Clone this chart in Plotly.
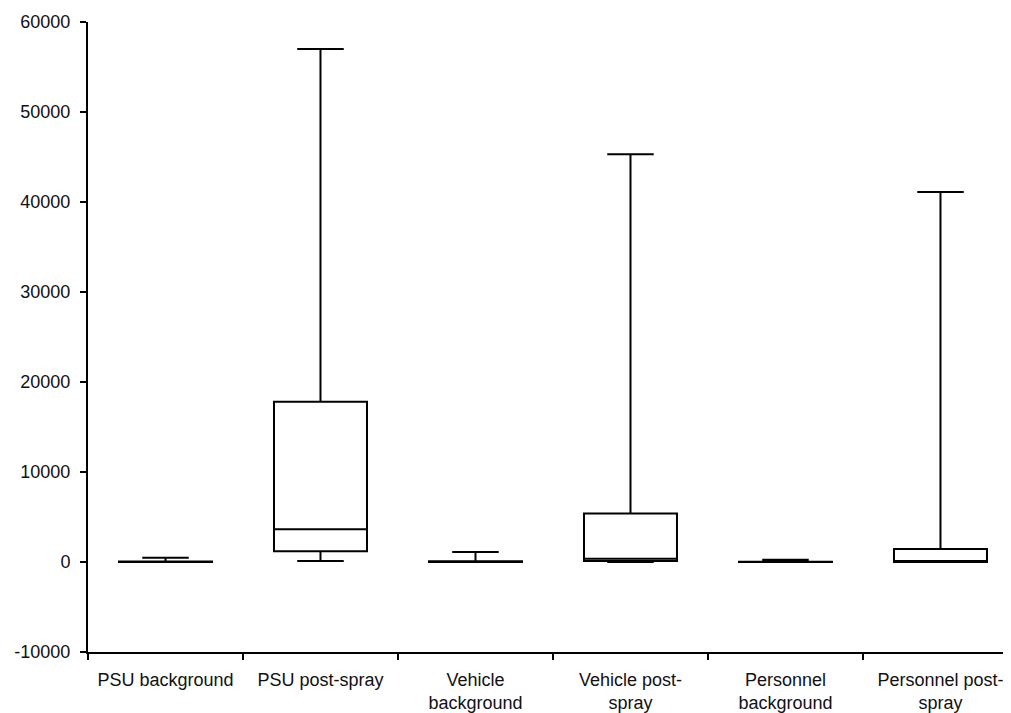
import plotly.graph_objects as go

categories = ["PSU background", "PSU post-spray", "Vehicle<br>background",
              "Vehicle post-<br>spray", "Personnel<br>background", "Personnel post-<br>spray"]
lower_whisker = [0, 100, 0, 0, 0, 0]
q1_values = [0, 1200, 0, 100, 0, 0]
median_values = [20, 3650, 30, 350, 10, 50]
q3_values = [60, 17800, 80, 5400, 40, 1450]
upper_whisker = [480, 57000, 1100, 45300, 250, 41100]

y_tick_vals = [-10000, 0, 10000, 20000, 30000, 40000, 50000, 60000]
y_tick_text = ["-10000", "0", "10000", "20000", "30000", "40000", "50000", "60000"]

fig = go.Figure()
fig.add_trace(go.Box(
    x=categories,
    q1=q1_values,
    median=median_values,
    q3=q3_values,
    lowerfence=lower_whisker,
    upperfence=upper_whisker,
    boxpoints=False,
    width=0.6,
    whiskerwidth=0.5,
    fillcolor="white",
    line=dict(color="black", width=2),
    hoverinfo="skip",
    showlegend=False,
))

xfont = dict(family="Liberation Sans, Arial, sans-serif", size=18, color="#111111")
yfont = dict(family="Liberation Sans, Arial, sans-serif", size=18, color="#111111")
fig.update_layout(
    width=1003, height=705,
    margin=dict(l=80, r=0, t=14, b=61),
    paper_bgcolor="white", plot_bgcolor="white",
    font=xfont,
    xaxis=dict(
        type="category",
        range=[-0.5, 5.455],
        automargin=False,
        showline=True, linecolor="black", linewidth=2,
        ticks="outside", tickson="boundaries", ticklen=6, tickwidth=2, tickcolor="black",
        showgrid=False, zeroline=False,
        ticklabelstandoff=10,
        tickfont=xfont,
    ),
    yaxis=dict(
        range=[-10000, 60000],
        automargin=False,
        tickvals=y_tick_vals, ticktext=y_tick_text,
        showline=True, linecolor="black", linewidth=2,
        ticks="outside", ticklen=6, tickwidth=2, tickcolor="black",
        showgrid=False, zeroline=False,
        ticklabelstandoff=6,
        tickfont=yfont,
    ),
)

fig.write_html("out.html")
